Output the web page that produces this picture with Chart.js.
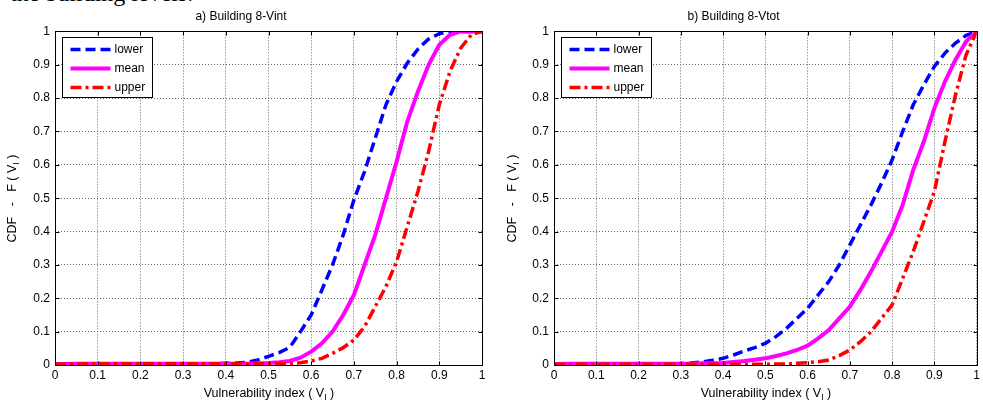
<!DOCTYPE html>
<html>
<head>
<meta charset="utf-8">
<script src="https://cdn.jsdelivr.net/npm/chart.js@4.4.1/dist/chart.umd.min.js"></script>
<style>
  body { margin: 0; background: #fff; width: 983px; height: 402px; overflow: hidden; position: relative; }
  .top-text { position: absolute; left: 10px; top: -21px; font-family: "Liberation Serif", serif; font-size: 24px; line-height: 28px; color: #000; white-space: nowrap; }
  .panel { position: absolute; top: 0; height: 402px; }
</style>
</head>
<body>
<div class="top-text">the building levels.</div>
<div class="panel" style="left:0;width:490px"><canvas id="chartA" width="490" height="402"></canvas></div>
<div class="panel" style="left:490px;width:493px"><canvas id="chartB" width="493" height="402"></canvas></div>

<script>
// vulnerability index samples (shared by both panels)
const vi = [0, 0.05, 0.1, 0.15, 0.2, 0.25, 0.3, 0.325, 0.35, 0.375, 0.4, 0.425, 0.45, 0.475, 0.5,
  0.525, 0.55, 0.575, 0.6, 0.625, 0.65, 0.675, 0.7, 0.725, 0.75, 0.775, 0.8, 0.825, 0.85, 0.875,
  0.9, 0.925, 0.95, 0.975, 1];

// a) Building 8-Vint
const lowerA = [0.002, 0.004, 0.004, 0.004, 0.004, 0.004, 0.004, 0.004, 0.004, 0.004, 0.005, 0.006, 0.008, 0.015, 0.026,
  0.037, 0.053, 0.10, 0.15, 0.225, 0.30, 0.39, 0.495, 0.58, 0.68, 0.78, 0.85, 0.905, 0.947, 0.977,
  0.993, 1, 1, 1, 1];
const meanA = [0.002, 0.004, 0.004, 0.004, 0.004, 0.004, 0.004, 0.004, 0.004, 0.004, 0.004, 0.004, 0.004, 0.005, 0.006,
  0.008, 0.012, 0.022, 0.04, 0.065, 0.10, 0.15, 0.21, 0.30, 0.39, 0.50, 0.61, 0.73, 0.82, 0.90,
  0.96, 0.99, 1, 1, 1];
const upperA = [0.002, 0.003, 0.004, 0.004, 0.004, 0.004, 0.004, 0.004, 0.004, 0.004, 0.004, 0.004, 0.004, 0.004, 0.004,
  0.004, 0.005, 0.007, 0.012, 0.02, 0.035, 0.052, 0.075, 0.115, 0.175, 0.235, 0.31, 0.415, 0.52, 0.64,
  0.78, 0.88, 0.95, 0.99, 1];

// b) Building 8-Vtot
const lowerB = [0.002, 0.003, 0.003, 0.003, 0.003, 0.003, 0.004, 0.006, 0.009, 0.014, 0.02, 0.03, 0.042, 0.052, 0.065,
  0.085, 0.11, 0.14, 0.17, 0.21, 0.25, 0.30, 0.36, 0.42, 0.48, 0.545, 0.615, 0.70, 0.78, 0.84,
  0.895, 0.935, 0.965, 0.988, 1];
const meanB = [0.003, 0.004, 0.004, 0.004, 0.004, 0.004, 0.004, 0.004, 0.005, 0.005, 0.006, 0.009, 0.012, 0.016, 0.02,
  0.027, 0.035, 0.045, 0.058, 0.08, 0.105, 0.14, 0.175, 0.225, 0.28, 0.34, 0.40, 0.48, 0.585, 0.67,
  0.77, 0.85, 0.915, 0.97, 1];
const upperB = [0.002, 0.002, 0.002, 0.002, 0.002, 0.002, 0.002, 0.002, 0.002, 0.002, 0.002, 0.002, 0.002, 0.002, 0.002,
  0.003, 0.003, 0.005, 0.007, 0.01, 0.015, 0.028, 0.045, 0.07, 0.10, 0.14, 0.18, 0.26, 0.34, 0.43,
  0.52, 0.67, 0.81, 0.93, 1];

const tickValues = [0, 0.1, 0.2, 0.3, 0.4, 0.5, 0.6, 0.7, 0.8, 0.9, 1];
const seriesNames = ["lower", "mean", "upper"];

const FONT = '"Liberation Sans", Arial, sans-serif';
Chart.defaults.font.family = FONT;
Chart.defaults.font.size = 12;
Chart.defaults.color = "#000";

const pts = (ys) => vi.map((v, i) => ({ x: v, y: ys[i] }));

// draws a string with a subscript part, centered on (cx, cy)
function subText(ctx, before, sub, after, cx, cy) {
  const big = "12.5px " + FONT, small = "9px " + FONT;
  ctx.font = big;
  const w1 = ctx.measureText(before).width;
  const w3 = ctx.measureText(after).width;
  ctx.font = small;
  const w2 = ctx.measureText(sub).width;
  const x = cx - (w1 + w2 + w3) / 2;
  ctx.textAlign = "left";
  ctx.textBaseline = "middle";
  ctx.font = big;
  ctx.fillText(before, x, cy);
  ctx.font = small;
  ctx.fillText(sub, x + w1, cy + 4);
  ctx.font = big;
  ctx.fillText(after, x + w1 + w2, cy);
}

// matlab style box, inward ticks, legend and axis titles
const matlabFrame = {
  id: "matlabFrame",
  afterDraw(chart, args, opts) {
    const { ctx, chartArea: a, scales: { x, y } } = chart;
    const L = Math.round(a.left) + 0.5, R = Math.round(a.right) + 0.5;
    const T = Math.round(a.top) + 0.5, B = Math.round(a.bottom) + 0.5;
    ctx.save();
    ctx.strokeStyle = "#000";
    ctx.lineWidth = 1;
    ctx.setLineDash([]);
    ctx.beginPath();
    tickValues.forEach((t) => {
      const px = Math.round(x.getPixelForValue(t)) + 0.5;
      const py = Math.round(y.getPixelForValue(t)) + 0.5;
      ctx.moveTo(px, B); ctx.lineTo(px, B - 4);
      ctx.moveTo(px, T); ctx.lineTo(px, T + 4);
      ctx.moveTo(L, py); ctx.lineTo(L + 4, py);
      ctx.moveTo(R, py); ctx.lineTo(R - 4, py);
    });
    ctx.stroke();
    ctx.strokeRect(L, T, R - L, B - T);

    // legend box
    const bx = L + 7, by = T + 6, bw = 90, bh = 60;
    ctx.fillStyle = "#fff";
    ctx.fillRect(bx, by, bw, bh);
    ctx.strokeRect(bx, by, bw, bh);
    chart.data.datasets.forEach((ds, i) => {
      const ly = by + 12 + i * 19;
      ctx.save();
      ctx.strokeStyle = ds.borderColor;
      ctx.lineWidth = ds.borderWidth;
      ctx.setLineDash(ds.borderDash || []);
      ctx.beginPath();
      ctx.moveTo(bx + 8, ly);
      ctx.lineTo(bx + 48, ly);
      ctx.stroke();
      ctx.restore();
      ctx.fillStyle = "#000";
      ctx.font = "12px " + FONT;
      ctx.textAlign = "left";
      ctx.textBaseline = "middle";
      ctx.fillText(ds.label, bx + 52, ly);
    });

    // axis titles
    ctx.fillStyle = "#000";
    subText(ctx, "Vulnerability index ( V", "I", " )", (L + R) / 2, 394);
    ctx.translate(opts.yTitleX, (T + B) / 2);
    ctx.rotate(-Math.PI / 2);
    subText(ctx, "CDF   -   F ( V", "I", " )", 0, 0);
    ctx.restore();
  }
};

function makeChart(id, title, lower, mean, upper, yWidth, padRight, yTitleX) {
  const datasets = [
    { label: seriesNames[0], data: pts(lower), borderColor: "#0000ff", borderWidth: 3.5, borderDash: [10, 5], order: 2 },
    { label: seriesNames[1], data: pts(mean), borderColor: "#ff00ff", borderWidth: 4, order: 1 },
    { label: seriesNames[2], data: pts(upper), borderColor: "#ff0000", borderWidth: 3.5, borderDash: [11, 4, 3, 4], order: 0 }
  ];
  datasets.forEach((d) => { d.pointRadius = 0; d.tension = 0; d.fill = false; });

  return new Chart(document.getElementById(id), {
    type: "line",
    data: { datasets },
    plugins: [matlabFrame],
    options: {
      responsive: false,
      animation: false,
      layout: { padding: { left: 0, right: padRight, top: 0, bottom: 0 } },
      plugins: {
        legend: { display: false },
        tooltip: { enabled: false },
        title: { display: true, text: title, font: { size: 12, weight: "normal" }, color: "#000", padding: { top: 9, bottom: 8 } },
        matlabFrame: { yTitleX }
      },
      scales: {
        x: {
          type: "linear", min: 0, max: 1,
          ticks: { stepSize: 0.1, padding: 3, maxRotation: 0, callback: (v) => String(+v.toFixed(1)) },
          grid: { color: "#666", drawTicks: false },
          border: { display: false, dash: [1, 2] },
          afterFit: (s) => { s.height = 37; }
        },
        y: {
          min: 0, max: 1,
          ticks: { stepSize: 0.1, padding: 5, callback: (v) => String(+v.toFixed(1)) },
          grid: { color: "#666", drawTicks: false },
          border: { display: false, dash: [1, 2] },
          afterFit: (s) => { s.width = yWidth; }
        }
      }
    }
  });
}

makeChart("chartA", "a) Building 8-Vint", lowerA, meanA, upperA, 55, 8, 13);
makeChart("chartB", "b) Building 8-Vtot", lowerB, meanB, upperB, 64, 6, 23);
</script>
</body>
</html>
